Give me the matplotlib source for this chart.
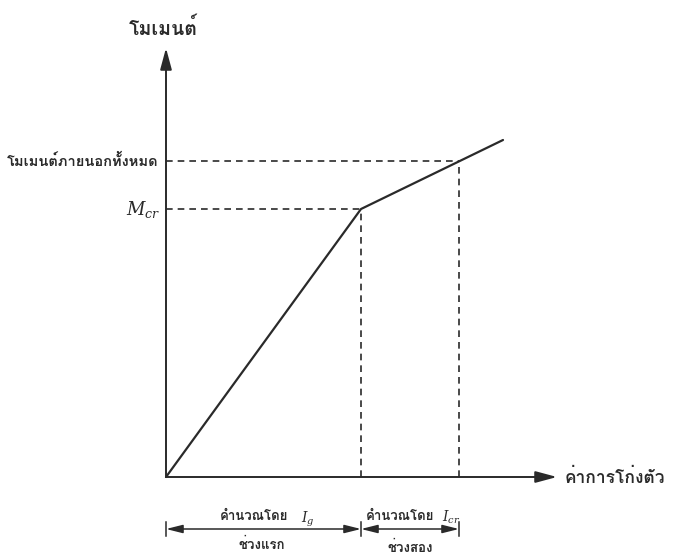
import matplotlib
matplotlib.use('Agg')
import matplotlib.pyplot as plt
from matplotlib import font_manager
from matplotlib.ft2font import FT2Font

# moment-deflection curve (deflection, moment)
defl = [0, 195, 337]
moment = [0, 268, 337]
# cracking point and total external moment point
defl_cr, m_cr = 195, 268
defl_tot, m_tot = 293, 316
# axis extents
x_max, y_max = 391, 429
dim_y = -52

lbl_y = 'โมเมนต์'
lbl_x = 'ค่าการโก่งตัว'
lbl_tot = 'โมเมนต์ภายนอกทั้งหมด'
lbl_calc = 'คำนวณโดย'
lbl_first = 'ช่วงแรก'
lbl_second = 'ช่วงสอง'


def thai_font():
    for f in font_manager.fontManager.ttflist:
        try:
            cmap = FT2Font(f.fname).get_charmap()
        except Exception:
            continue
        if ord('โ') in cmap and ord('ม') in cmap:
            return f.name
    return 'DejaVu Sans'


tf = thai_font()
plt.rcParams['font.family'] = [tf, 'DejaVu Sans']
plt.rcParams['mathtext.fontset'] = 'dejavuserif'

ink = '#2a2a2a'
fig = plt.figure(figsize=(6.73, 5.54), dpi=100)
ax = fig.add_axes([0, 0, 1, 1])
ax.set_xlim(-166, 507)
ax.set_ylim(-77, 477)
ax.axis('off')

# axes with arrows
arr = dict(arrowstyle='-|>,head_length=1.3,head_width=0.35', color=ink, lw=1.4, shrinkA=0, shrinkB=0)
ax.annotate('', xy=(0, y_max), xytext=(0, 0), arrowprops=arr)
ax.annotate('', xy=(x_max, 0), xytext=(0, 0), arrowprops=arr)

# curve
ax.plot(defl, moment, color=ink, lw=1.6, solid_capstyle='round')

# dashed guides
dash = dict(color=ink, lw=1.2, ls=(0, (4, 3)))
ax.plot([0, defl_cr], [m_cr, m_cr], **dash)
ax.plot([defl_cr, defl_cr], [0, m_cr], **dash)
ax.plot([0, defl_tot], [m_tot, m_tot], **dash)
ax.plot([defl_tot, defl_tot], [0, m_tot], **dash)

# labels
ax.text(-3, 449, lbl_y, ha='center', va='center', fontsize=14, fontweight='bold', color=ink)
ax.text(399, 0, lbl_x, ha='left', va='center', fontsize=12.5, fontweight='bold', color=ink)
ax.text(-8, m_tot, lbl_tot, ha='right', va='center', fontsize=10.5, fontweight='bold', color=ink)
ax.text(-6, m_cr, r'$M_{cr}$', ha='right', va='center', fontsize=13, color=ink)

# dimension lines
darr = dict(arrowstyle='<|-|>,head_length=1.0,head_width=0.25', color=ink, lw=1.1, shrinkA=0, shrinkB=0)
ax.annotate('', xy=(0, dim_y), xytext=(defl_cr, dim_y), arrowprops=darr)
ax.annotate('', xy=(defl_cr, dim_y), xytext=(defl_tot, dim_y), arrowprops=darr)
for xv in [0, defl_cr, defl_tot]:
    ax.plot([xv, xv], [dim_y - 7, dim_y + 7], color=ink, lw=1.1)

ax.text(88, -40, lbl_calc, ha='center', va='center', fontsize=9.5, fontweight='bold', color=ink)
ax.text(142, -42, r'$I_g$', ha='center', va='center', fontsize=10, color=ink)
ax.text(96, -68, lbl_first, ha='center', va='center', fontsize=9.5, fontweight='bold', color=ink)
ax.text(234, -40, lbl_calc, ha='center', va='center', fontsize=9.5, fontweight='bold', color=ink)
ax.text(285, -40, r'$I_{cr}$', ha='center', va='center', fontsize=10, color=ink)
ax.text(244, -71, lbl_second, ha='center', va='center', fontsize=9.5, fontweight='bold', color=ink)

fig.savefig('out.png', dpi=100)
